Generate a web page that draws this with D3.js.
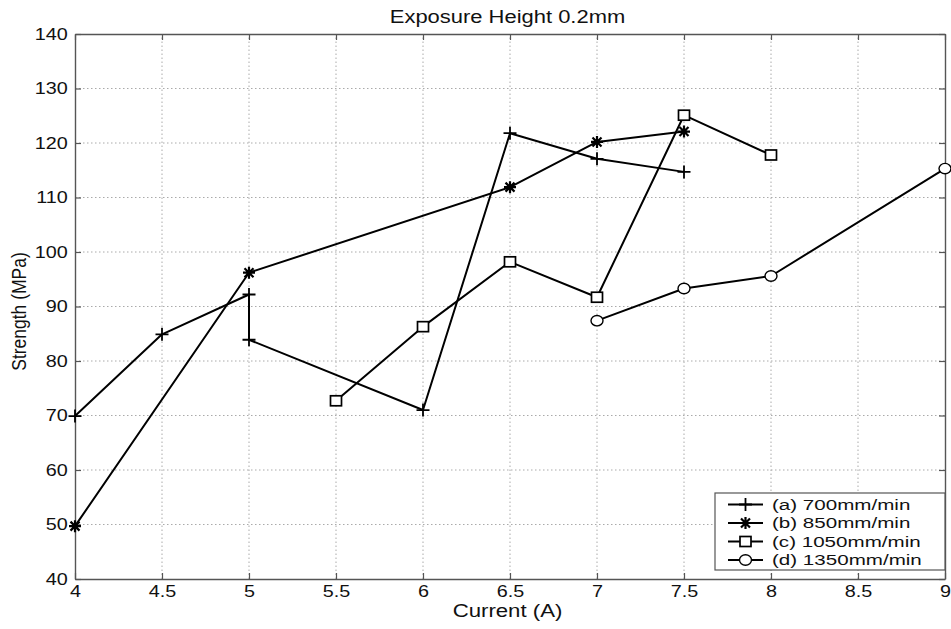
<!DOCTYPE html>
<html>
<head>
<meta charset="utf-8">
<script src="https://cdn.jsdelivr.net/npm/d3@7/dist/d3.min.js"></script>
<style>
  body { margin: 0; background: #fff; }
  svg { display: block; font-family: "Liberation Sans", Arial, sans-serif; }
</style>
</head>
<body>
<svg id="chart" width="951" height="629"></svg>
<script>
// Tensile strength vs. current, one series per scan speed
const xTicks = [4, 4.5, 5, 5.5, 6, 6.5, 7, 7.5, 8, 8.5, 9];
const yTicks = [40, 50, 60, 70, 80, 90, 100, 110, 120, 130, 140];

const seriesA = [[4, 69.9], [4.5, 84.9], [5, 92.2], [5, 83.9], [6, 71.0], [6.5, 121.8], [7, 117.1], [7.5, 114.7]];
const seriesB = [[4, 49.7], [5, 96.2], [6.5, 111.9], [7, 120.2], [7.5, 122.1]];
const seriesC = [[5.5, 72.7], [6, 86.3], [6.5, 98.2], [7, 91.7], [7.5, 125.1], [8, 117.8]];
const seriesD = [[7, 87.4], [7.5, 93.3], [8, 95.6], [9, 115.3]];

const seriesNames = ["(a) 700mm/min", "(b) 850mm/min", "(c) 1050mm/min", "(d) 1350mm/min"];
const markerKinds = ["plus", "star", "square", "circle"];

const svg = d3.select("#chart");
const margin = { left: 75, right: 6, top: 34, bottom: 50 };
const W = 951, H = 629;
const x = d3.scaleLinear().domain([4, 9]).range([margin.left, W - margin.right]);
const y = d3.scaleLinear().domain([40, 140]).range([H - margin.bottom, margin.top]);
const axisColor = "#555";
const wide = 1.2; // horizontal stretch of the label face

// dotted grid
const grid = svg.append("g");
grid.selectAll(".gx").data(xTicks.slice(1, -1)).join("line")
  .attr("x1", d => x(d)).attr("x2", d => x(d))
  .attr("y1", y(40)).attr("y2", y(140))
  .attr("stroke", "#aaa").attr("stroke-width", 1).attr("stroke-dasharray", "1.5,2.5");
grid.selectAll(".gy").data(yTicks.slice(1, -1)).join("line")
  .attr("x1", x(4)).attr("x2", x(9))
  .attr("y1", d => y(d)).attr("y2", d => y(d))
  .attr("stroke", "#aaa").attr("stroke-width", 1).attr("stroke-dasharray", "1.5,2.5");

// axes with inward ticks on all four sides
const fmt = d => String(d);
const bottomAxis = d3.axisBottom(x).tickValues(xTicks).tickFormat(fmt).tickSizeInner(-6).tickSizeOuter(0).tickPadding(6);
const leftAxis = d3.axisLeft(y).tickValues(yTicks).tickFormat(fmt).tickSizeInner(-6).tickSizeOuter(0).tickPadding(6);
const topAxis = d3.axisTop(x).tickValues(xTicks).tickFormat("").tickSizeInner(-6).tickSizeOuter(0);
const rightAxis = d3.axisRight(y).tickValues(yTicks).tickFormat("").tickSizeInner(-6).tickSizeOuter(0);

function styleAxis(g) {
  g.select(".domain").attr("stroke", axisColor).attr("stroke-width", 1.4);
  g.selectAll(".tick line").attr("stroke", axisColor).attr("stroke-width", 1.2);
  g.selectAll(".tick text").attr("fill", "#111").style("font-size", "16.5px")
    .style("font-family", "'Liberation Sans', Arial, sans-serif")
    .attr("transform", `scale(${wide},1)`);
}
svg.append("g").attr("transform", `translate(0,${y(40)})`).call(bottomAxis).call(styleAxis);
svg.append("g").attr("transform", `translate(${x(4)},0)`).call(leftAxis).call(styleAxis);
svg.append("g").attr("transform", `translate(0,${y(140)})`).call(topAxis).call(styleAxis);
svg.append("g").attr("transform", `translate(${x(9)},0)`).call(rightAxis).call(styleAxis);

// titles
const midX = (x(4) + x(9)) / 2 - 2.5;
svg.append("text").attr("transform", `translate(${midX},22.5) scale(${wide},1)`).attr("text-anchor", "middle")
  .style("font-size", "18.3px").attr("fill", "#111").text("Exposure Height 0.2mm");
svg.append("text").attr("transform", `translate(${midX},617) scale(${wide},1)`).attr("text-anchor", "middle")
  .style("font-size", "18.5px").attr("fill", "#111").text("Current (A)");
svg.append("text").attr("transform", `translate(25.5,${(y(40) + y(140)) / 2 + 5}) rotate(-90) scale(1,1.2)`)
  .attr("text-anchor", "middle").style("font-size", "17.5px").attr("fill", "#111").text("Strength (MPa)");

// marker drawing
function drawMarker(g, kind, cx, cy) {
  const s = g.append("g").attr("transform", `translate(${cx},${cy})`)
    .attr("stroke", "#000").attr("fill", "none").attr("stroke-width", 1.8);
  if (kind === "plus") {
    s.append("path").attr("d", "M-6.5,0H6.5M0,-6.5V6.5");
  } else if (kind === "star") {
    s.append("path").attr("d", "M-6,0H6M0,-6V6M-4.5,-4.5L4.5,4.5M-4.5,4.5L4.5,-4.5").attr("stroke-width", 2.2);
  } else if (kind === "square") {
    s.append("rect").attr("x", -5.5).attr("y", -5).attr("width", 11).attr("height", 10).attr("fill", "#fff").attr("stroke-width", 1.7);
  } else if (kind === "circle") {
    s.append("ellipse").attr("rx", 6).attr("ry", 5.2).attr("fill", "#fff").attr("stroke-width", 1.4);
  }
}

const line = d3.line().x(d => x(d[0])).y(d => y(d[1]));
const allSeries = [seriesA, seriesB, seriesC, seriesD];
const plot = svg.append("g");
allSeries.forEach((data, i) => {
  plot.append("path").datum(data).attr("d", line)
    .attr("fill", "none").attr("stroke", "#000").attr("stroke-width", 2).attr("stroke-linejoin", "round");
});
allSeries.forEach((data, i) => {
  data.forEach(d => drawMarker(plot, markerKinds[i], x(d[0]), y(d[1])));
});

// legend
const lg = svg.append("g");
lg.append("rect").attr("x", 715).attr("y", 493).attr("width", 230).attr("height", 77)
  .attr("fill", "#fff").attr("stroke", axisColor).attr("stroke-width", 1.2);
seriesNames.forEach((name, i) => {
  const ly = 504.5 + i * 18.5;
  lg.append("line").attr("x1", 728).attr("x2", 763).attr("y1", ly).attr("y2", ly)
    .attr("stroke", "#000").attr("stroke-width", 1.8);
  drawMarker(lg, markerKinds[i], 745.5, ly);
  lg.append("text").attr("transform", `translate(772,${ly + 5.3}) scale(1.42,1)`)
    .style("font-size", "14.5px").attr("fill", "#111").text(name);
});
</script>
</body>
</html>
